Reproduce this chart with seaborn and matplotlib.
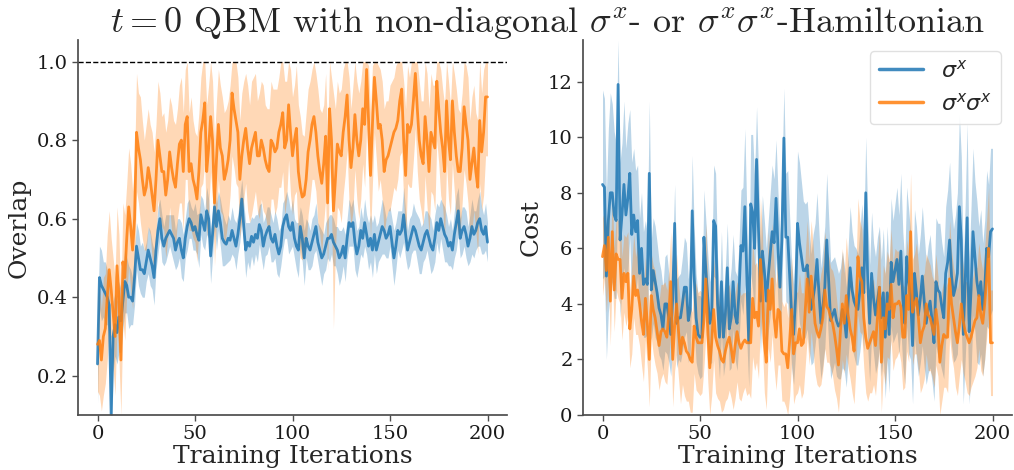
import numpy as np
import matplotlib
matplotlib.use("Agg")
import matplotlib.pyplot as plt
import seaborn as sns

# ---------------------------------------------------------------------------
# Data: mean curves and band half-widths over 201 training iterations
# ---------------------------------------------------------------------------
iterations = np.arange(201)

overlap_x = [
    0.23, 0.45, 0.43, 0.42, 0.41, 0.40, 0.38, 0.10, 0.30, 0.33,
    0.31, 0.35, 0.34, 0.39, 0.44, 0.43, 0.40, 0.40, 0.39, 0.45,
    0.53, 0.50, 0.47, 0.47, 0.46, 0.49, 0.52, 0.50, 0.48, 0.45,
    0.52, 0.57, 0.60, 0.55, 0.53, 0.55, 0.56, 0.57, 0.56, 0.55,
    0.52, 0.54, 0.55, 0.52, 0.50, 0.55, 0.58, 0.60, 0.59, 0.57,
    0.58, 0.56, 0.545, 0.61, 0.59, 0.57, 0.62, 0.60, 0.505, 0.56,
    0.63, 0.58, 0.62, 0.59, 0.55, 0.54, 0.535, 0.55, 0.545, 0.57,
    0.55, 0.53, 0.56, 0.60, 0.65, 0.58, 0.52, 0.54, 0.53, 0.555,
    0.54, 0.56, 0.55, 0.585, 0.57, 0.53, 0.555, 0.57, 0.58, 0.55,
    0.54, 0.56, 0.53, 0.51, 0.53, 0.58, 0.60, 0.61, 0.58, 0.57,
    0.59, 0.55, 0.53, 0.52, 0.58, 0.55, 0.50, 0.55, 0.53, 0.52,
    0.54, 0.56, 0.58, 0.54, 0.52, 0.50, 0.51, 0.53, 0.55, 0.55,
    0.56, 0.54, 0.53, 0.52, 0.50, 0.51, 0.53, 0.50, 0.55, 0.59,
    0.58, 0.59, 0.54, 0.51, 0.53, 0.57, 0.55, 0.59, 0.56, 0.53,
    0.55, 0.52, 0.56, 0.52, 0.54, 0.56, 0.58, 0.57, 0.55, 0.56,
    0.58, 0.54, 0.50, 0.53, 0.57, 0.56, 0.57, 0.61, 0.56, 0.52,
    0.54, 0.56, 0.58, 0.57, 0.55, 0.53, 0.52, 0.54, 0.56, 0.57,
    0.55, 0.53, 0.52, 0.55, 0.59, 0.57, 0.60, 0.58, 0.56, 0.55,
    0.53, 0.54, 0.52, 0.56, 0.59, 0.62, 0.55, 0.57, 0.58, 0.56,
    0.53, 0.55, 0.58, 0.56, 0.57, 0.59, 0.60, 0.57, 0.56, 0.58,
    0.54,
]

overlap_x_spread = [
    .10, .08, .09, .07, .08, .07, .08, .12, .09, .08,
    .08, .09, .08, .07, .08, .07, .08, .07, .06, .07,
    .06, .07, .06, .07, .06, .05, .06, .07, .06, .07,
    .05, .06, .05, .06, .05, .06, .05, .04, .05, .06,
    .05, .06, .05, .07, .06, .05, .06, .05, .04, .05,
    .06, .05, .07, .05, .06, .05, .06, .05, .07, .06,
    .05, .06, .05, .06, .07, .06, .05, .06, .05, .06,
    .05, .06, .05, .06, .05, .06, .07, .05, .06, .05,
    .06, .05, .06, .05, .07, .06, .05, .06, .05, .06,
    .05, .06, .07, .06, .05, .06, .05, .06, .07, .05,
    .06, .05, .06, .07, .05, .06, .07, .05, .06, .05,
    .06, .05, .06, .05, .06, .07, .05, .06, .05, .06,
    .05, .06, .05, .06, .07, .06, .05, .06, .05, .06,
    .05, .06, .07, .06, .05, .06, .05, .06, .05, .06,
    .06, .07, .05, .06, .05, .06, .07, .06, .05, .06,
    .05, .06, .07, .06, .05, .06, .05, .07, .06, .05,
    .06, .05, .06, .05, .06, .07, .06, .05, .06, .05,
    .06, .07, .05, .06, .05, .06, .05, .06, .07, .06,
    .05, .06, .05, .06, .07, .06, .05, .06, .05, .06,
    .05, .06, .07, .06, .05, .06, .07, .06, .05, .06,
    .05,
]

overlap_xx = [
    0.28, 0.29, 0.24, 0.30, 0.32, 0.40, 0.47, 0.42, 0.36, 0.30,
    0.48, 0.40, 0.24, 0.49, 0.45, 0.55, 0.63, 0.58, 0.52, 0.60,
    0.82, 0.78, 0.75, 0.70, 0.66, 0.68, 0.73, 0.70, 0.66, 0.62,
    0.70, 0.80, 0.76, 0.72, 0.72, 0.66, 0.70, 0.77, 0.73, 0.70,
    0.68, 0.74, 0.79, 0.80, 0.72, 0.84, 0.86, 0.72, 0.74, 0.70,
    0.68, 0.65, 0.72, 0.82, 0.85, 0.895, 0.72, 0.78, 0.86, 0.80,
    0.64, 0.75, 0.84, 0.78, 0.76, 0.70, 0.72, 0.75, 0.80, 0.92,
    0.88, 0.85, 0.82, 0.70, 0.76, 0.80, 0.83, 0.78, 0.74, 0.78,
    0.80, 0.82, 0.76, 0.76, 0.80, 0.78, 0.75, 0.73, 0.72, 0.80,
    0.79, 0.77, 0.78, 0.82, 0.84, 0.87, 0.78, 0.80, 0.89, 0.82,
    0.76, 0.80, 0.83, 0.72, 0.68, 0.655, 0.66, 0.70, 0.77, 0.80,
    0.84, 0.86, 0.82, 0.76, 0.72, 0.69, 0.74, 0.81, 0.64, 0.88,
    0.80, 0.62, 0.70, 0.79, 0.77, 0.76, 0.82, 0.86, 0.915, 0.80,
    0.73, 0.78, 0.865, 0.80, 0.76, 0.80, 0.88, 0.84, 0.98, 0.85,
    0.71, 0.84, 0.96, 0.90, 0.83, 0.84, 0.80, 0.72, 0.75, 0.76,
    0.78, 0.80, 0.82, 0.83, 0.85, 0.90, 0.93, 0.80, 0.71, 0.84,
    0.82, 0.84, 0.90, 0.97, 0.88, 0.80, 0.76, 0.74, 0.86, 0.80,
    0.72, 0.82, 0.80, 0.78, 0.95, 0.88, 0.82, 0.78, 0.72, 0.90,
    0.80, 0.75, 0.90, 0.82, 0.76, 0.72, 0.72, 0.78, 0.885, 0.84,
    0.80, 0.70, 0.74, 0.78, 0.72, 0.68, 0.85, 0.77, 0.82, 0.91,
    0.91,
]

overlap_xx_spread = [
    .12, .14, .13, .15, .14, .16, .15, .13, .14, .15,
    .15, .16, .14, .15, .16, .14, .15, .16, .15, .14,
    .15, .14, .16, .15, .14, .16, .15, .14, .16, .15,
    .14, .15, .16, .14, .15, .16, .15, .14, .16, .15,
    .16, .14, .15, .16, .15, .14, .16, .15, .17, .15,
    .14, .16, .15, .14, .16, .15, .17, .16, .14, .15,
    .16, .15, .14, .16, .15, .17, .16, .15, .14, .16,
    .15, .16, .14, .15, .16, .15, .14, .16, .15, .17,
    .16, .15, .14, .16, .15, .16, .14, .15, .16, .15,
    .14, .16, .15, .14, .16, .15, .17, .15, .14, .16,
    .15, .14, .16, .17, .18, .16, .15, .17, .16, .15,
    .14, .16, .15, .17, .16, .18, .15, .16, .17, .15,
    .16, .30, .18, .16, .15, .17, .16, .15, .14, .16,
    .15, .16, .14, .15, .16, .15, .14, .16, .15, .14,
    .16, .15, .14, .15, .16, .14, .15, .16, .15, .14,
    .16, .15, .14, .16, .15, .14, .16, .15, .17, .15,
    .14, .16, .15, .14, .16, .15, .14, .16, .15, .17,
    .16, .15, .14, .16, .15, .14, .16, .15, .17, .16,
    .15, .14, .16, .15, .17, .16, .15, .14, .16, .15,
    .16, .15, .17, .16, .15, .17, .16, .15, .16, .15,
    .15,
]

cost_x = [
    8.3, 8.2, 5.0, 7.0, 8.0, 8.0, 7.2, 7.0, 11.9, 6.3,
    7.2, 8.3, 7.2, 7.8, 8.7, 6.5, 7.2, 6.6, 7.0, 5.1,
    6.0, 4.7, 4.9, 4.7, 8.7, 4.5, 5.2, 4.8, 4.4, 3.85,
    3.6, 3.1, 4.0, 4.0, 3.5, 2.9, 4.2, 6.9, 3.3, 3.5,
    3.5, 4.0, 4.6, 4.6, 3.4, 3.8, 7.35, 5.0, 3.5, 2.9,
    2.8, 2.8, 6.4, 5.2, 4.2, 3.3, 3.6, 7.0, 6.8, 4.0,
    2.8, 4.8, 2.8, 3.6, 5.3, 3.1, 3.5, 4.8, 3.6, 3.3,
    4.4, 6.1, 5.9, 7.5, 5.0, 2.6, 7.6, 7.3, 6.0, 9.2,
    6.7, 4.1, 5.9, 5.2, 4.1, 5.0, 5.8, 6.6, 6.2, 7.8,
    6.0, 4.6, 6.3, 9.97, 6.4, 6.4, 5.0, 3.6, 2.9, 4.2,
    6.9, 6.2, 5.7, 5.2, 5.2, 5.4, 4.5, 3.8, 4.2, 4.7,
    5.6, 4.4, 3.3, 3.9, 4.6, 6.3, 4.8, 3.4, 3.6, 3.8,
    3.4, 3.2, 3.3, 3.8, 3.5, 2.8, 4.1, 5.3, 4.5, 4.1,
    3.9, 3.8, 4.5, 5.3, 4.4, 8.0, 4.8, 3.3, 5.1, 4.2,
    3.6, 4.1, 4.6, 3.5, 4.4, 2.8, 4.4, 2.9, 5.5, 4.8,
    5.2, 5.6, 4.7, 5.9, 4.2, 3.3, 5.7, 4.8, 4.3, 2.5,
    5.1, 4.4, 3.6, 4.2, 5.0, 4.1, 3.3, 3.8, 4.1, 3.4,
    2.6, 4.8, 4.5, 4.4, 3.9, 3.5, 5.1, 5.5, 6.3, 5.0,
    4.3, 4.6, 5.1, 7.5, 6.3, 2.9, 4.8, 7.1, 3.0, 4.5,
    6.6, 5.7, 4.8, 4.3, 4.8, 3.8, 4.5, 6.0, 5.7, 6.6,
    6.7,
]

cost_x_spread = [
    3.4, 3.2, 3.0, 3.3, 3.6, 3.2, 3.0, 2.8, 1.6, 2.8,
    2.6, 3.0, 2.4, 2.7, 2.3, 2.6, 2.4, 2.2, 2.0, 2.0,
    2.0, 1.9, 2.1, 1.8, 2.6, 1.8, 1.9, 2.0, 1.8, 1.7,
    1.6, 1.5, 1.7, 1.8, 1.6, 1.5, 1.7, 1.4, 1.6, 1.5,
    1.6, 1.7, 1.8, 1.6, 1.5, 1.7, 2.0, 1.8, 1.6, 1.4,
    1.5, 1.4, 1.7, 1.8, 1.6, 1.5, 1.7, 2.0, 1.9, 1.7,
    1.5, 1.8, 1.4, 1.7, 1.6, 1.5, 1.8, 1.7, 1.6, 1.7,
    1.8, 2.0, 2.3, 2.8, 2.3, 1.6, 2.5, 2.8, 2.6, 1.9,
    2.1, 1.9, 2.0, 1.8, 1.9, 2.0, 2.2, 2.4, 2.3, 2.1,
    2.0, 1.9, 2.2, 1.8, 2.3, 2.4, 2.1, 1.9, 1.8, 2.0,
    2.6, 2.9, 2.7, 2.5, 2.4, 2.3, 2.2, 2.0, 2.3, 2.2,
    2.4, 2.2, 2.0, 2.1, 2.2, 2.4, 2.3, 2.1, 2.0, 1.9,
    2.0, 1.9, 2.0, 2.1, 1.9, 1.8, 2.0, 2.2, 2.1, 2.0,
    2.1, 2.0, 2.2, 2.3, 2.1, 2.0, 2.4, 2.1, 2.2, 2.0,
    2.1, 2.3, 2.2, 2.1, 2.3, 2.2, 2.4, 2.1, 2.3, 2.2,
    2.4, 2.6, 2.5, 2.8, 2.4, 2.2, 2.5, 2.6, 2.3, 2.1,
    2.3, 2.4, 2.2, 2.3, 2.5, 2.4, 2.2, 2.3, 2.4, 2.2,
    2.1, 2.3, 2.4, 2.5, 2.3, 2.2, 2.4, 2.6, 2.8, 2.5,
    2.4, 2.6, 2.9, 3.3, 3.0, 2.5, 2.8, 3.4, 2.6, 3.0,
    3.0, 2.7, 2.9, 2.5, 2.6, 2.4, 2.5, 2.8, 2.6, 3.0,
    2.9,
]

cost_xx = [
    5.7, 6.1, 5.2, 6.4, 4.1, 6.6, 4.5, 5.8, 5.6, 5.6,
    4.2, 5.1, 4.8, 5.1, 3.1, 3.8, 5.0, 4.3, 4.5, 4.0,
    3.4, 2.9, 4.2, 3.3, 2.0, 4.3, 3.8, 3.5, 3.0, 2.5,
    3.0, 3.1, 3.0, 2.8, 3.6, 4.8, 2.0, 3.2, 4.0, 3.0,
    2.2, 2.8, 2.6, 2.3, 2.2, 2.0, 1.9, 3.2, 2.8, 2.6,
    2.6, 2.6, 3.4, 4.9, 3.0, 1.7, 2.6, 3.8, 2.8, 2.5,
    2.3, 2.0, 1.9, 2.3, 2.6, 2.8, 2.4, 1.9, 2.5, 3.0,
    2.6, 2.4, 2.6, 2.7, 2.6, 2.6, 2.6, 4.2, 3.5, 3.7,
    3.2, 5.6, 4.5, 2.6, 1.9, 4.5, 3.8, 4.9, 3.5, 2.8,
    3.8, 3.7, 2.3, 2.2, 2.2, 1.7, 2.7, 3.8, 2.2, 2.6,
    2.6, 3.1, 2.5, 2.6, 3.8, 4.9, 3.7, 5.0, 4.2, 3.3,
    3.0, 2.8, 3.1, 3.5, 4.5, 3.9, 3.8, 3.5, 3.3, 2.9,
    2.4, 1.8, 3.0, 4.0, 3.3, 4.3, 3.6, 3.1, 2.8, 2.3,
    3.6, 5.7, 5.0, 4.8, 3.5, 2.8, 2.4, 2.6, 2.8, 3.0,
    2.5, 3.5, 4.6, 1.9, 3.5, 3.1, 4.0, 3.8, 4.7, 3.5,
    4.0, 4.0, 4.1, 3.9, 2.8, 2.8, 4.3, 3.8, 6.6, 3.7,
    4.0, 4.2, 3.5, 2.6, 3.0, 3.2, 4.0, 3.6, 3.5, 3.2,
    2.9, 3.8, 3.2, 1.9, 2.5, 2.9, 2.8, 2.8, 4.9, 4.0,
    3.5, 3.0, 2.6, 3.2, 4.0, 3.4, 3.0, 2.8, 2.6, 2.8,
    3.1, 3.4, 3.5, 4.3, 3.6, 3.3, 4.0, 4.9, 6.0, 2.6,
    2.6,
]

cost_xx_spread = [
    1.4, 1.2, 1.5, 1.3, 1.6, 1.4, 1.5, 1.3, 1.4, 1.6,
    1.5, 1.4, 1.6, 1.5, 1.4, 1.6, 1.5, 1.4, 1.6, 1.5,
    1.6, 1.7, 1.5, 1.6, 1.7, 1.5, 1.6, 1.7, 1.5, 1.6,
    1.7, 1.6, 1.8, 1.7, 1.6, 1.8, 1.7, 1.6, 1.8, 1.7,
    1.8, 1.7, 1.9, 1.8, 1.7, 1.9, 1.8, 1.7, 1.9, 1.8,
    1.9, 1.8, 1.7, 2.0, 1.8, 1.7, 1.9, 1.8, 2.0, 1.9,
    1.8, 1.9, 1.7, 1.8, 2.0, 1.9, 1.8, 1.7, 1.9, 1.8,
    2.0, 1.9, 1.8, 1.7, 1.9, 1.8, 2.0, 2.1, 1.9, 1.8,
    1.9, 2.2, 2.0, 1.8, 1.7, 2.1, 1.9, 2.0, 1.8, 1.9,
    2.0, 1.9, 1.8, 1.7, 1.9, 1.8, 2.0, 1.9, 1.8, 1.9,
    1.8, 2.0, 1.9, 1.8, 2.0, 2.1, 1.9, 2.0, 1.9, 1.8,
    1.9, 1.8, 2.0, 1.9, 2.1, 2.0, 1.9, 1.8, 1.9, 2.0,
    1.8, 1.7, 1.9, 2.0, 1.8, 2.1, 1.9, 1.8, 2.0, 1.9,
    1.8, 2.1, 2.0, 1.9, 1.8, 2.0, 1.9, 1.8, 2.0, 1.9,
    1.8, 1.9, 2.0, 1.8, 1.9, 2.0, 1.9, 1.8, 2.0, 1.9,
    2.0, 1.9, 1.8, 2.0, 1.9, 1.8, 2.0, 1.9, 2.1, 1.9,
    1.8, 2.0, 1.9, 1.8, 2.0, 1.9, 1.8, 2.0, 1.9, 1.8,
    1.9, 2.0, 1.8, 1.9, 2.0, 1.9, 1.8, 2.0, 2.1, 1.9,
    1.8, 2.0, 1.9, 1.8, 2.0, 1.9, 1.8, 2.0, 1.9, 1.8,
    1.9, 2.0, 1.8, 1.9, 2.0, 1.9, 2.0, 2.1, 2.2, 1.9,
    1.9,
]

series_labels = [r"$\sigma^x$", r"$\sigma^x\sigma^x$"]
title_text = r"$t = 0$ QBM with non-diagonal $\sigma^x$- or $\sigma^x\sigma^x$-Hamiltonian"
xlabel_text = "Training Iterations"
ylabels = ["Overlap", "Cost"]
overlap_ticks = [0.2, 0.4, 0.6, 0.8, 1.0]
cost_ticks = [0, 2, 4, 6, 8, 10, 12]
x_ticks = [0, 50, 100, 150, 200]

# ---------------------------------------------------------------------------
# Styling
# ---------------------------------------------------------------------------
sns.set_theme(style="ticks")
plt.rcParams["font.family"] = ["DejaVu Serif"]
plt.rcParams["mathtext.fontset"] = "dejavusans"
plt.rcParams["axes.edgecolor"] = "0.3"
plt.rcParams["xtick.color"] = "0.3"
plt.rcParams["ytick.color"] = "0.3"
plt.rcParams["xtick.labelcolor"] = "0.1"
plt.rcParams["ytick.labelcolor"] = "0.1"

palette = sns.color_palette("tab10")
blue, orange = palette[0], palette[1]

fig = plt.figure(figsize=(10.14, 4.70), dpi=100)
ax_ov = fig.add_axes([78 / 1014, 55 / 470, 429 / 1014, 375 / 470])
ax_cost = fig.add_axes([583 / 1014, 55 / 470, 429 / 1014, 375 / 470])


def draw_series(ax, mean, spread, color, label, upper_cap=None, lower_cap=None):
    mean = np.asarray(mean, dtype=float)
    spread = np.asarray(spread, dtype=float)
    lo = mean - spread
    hi = mean + spread
    if upper_cap is not None:
        hi = np.minimum(hi, upper_cap)
    if lower_cap is not None:
        lo = np.maximum(lo, lower_cap)
    ax.fill_between(iterations, lo, hi, color=color, alpha=0.3, lw=0)
    sns.lineplot(x=iterations, y=mean, ax=ax, color=color, lw=2,
                 alpha=0.85, label=label)


# Overlap panel
draw_series(ax_ov, overlap_x, overlap_x_spread, blue, series_labels[0])
draw_series(ax_ov, overlap_xx, overlap_xx_spread, orange, series_labels[1],
            upper_cap=1.0)
ax_ov.axhline(1.0, color="black", ls="--", lw=1)
ax_ov.set_xlim(-10, 210)
ax_ov.set_ylim(0.1, 1.055)
ax_ov.set_yticks(overlap_ticks)
ax_ov.set_yticklabels([f"{t:.1f}" for t in overlap_ticks])
ax_ov.legend_.remove()

# Cost panel
draw_series(ax_cost, cost_x, cost_x_spread, blue, series_labels[0])
draw_series(ax_cost, cost_xx, cost_xx_spread, orange, series_labels[1],
            lower_cap=0.0)
ax_cost.set_xlim(-10, 210)
ax_cost.set_ylim(0, 13.5)
ax_cost.set_yticks(cost_ticks)

for ax, yl in zip([ax_ov, ax_cost], ylabels):
    ax.set_xticks(x_ticks)
    ax.set_xlabel(xlabel_text, fontsize=18, labelpad=1)
    ax.set_ylabel(yl, fontsize=18)
    ax.tick_params(labelsize=14, length=4, width=1)
    sns.despine(ax=ax)

leg = ax_cost.legend(loc="upper right", fontsize=16, frameon=True,
                     fancybox=True, edgecolor="0.85")
for line in leg.get_lines():
    line.set_linewidth(2.5)
    line.set_alpha(0.85)

fig.text(548 / 1014, 0.953, title_text, ha="center", va="center",
         fontsize=26, family="cmr10", math_fontfamily="cm")

fig.savefig("out.png", dpi=100)
